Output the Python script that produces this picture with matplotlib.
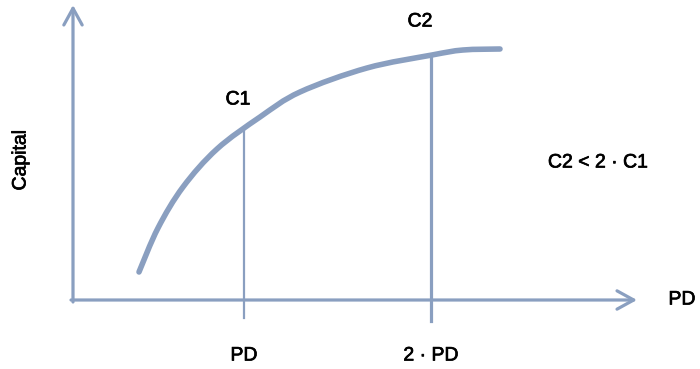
import matplotlib.pyplot as plt
import matplotlib.patheffects as pe
from matplotlib.path import Path
from matplotlib.patches import PathPatch
import numpy as np

plt.rcParams['font.family'] = ['Liberation Sans', 'DejaVu Sans']

BLUE = '#8a9fc0'

# curve (x in px from left, capital = height from bottom)
curve_x = [139, 158, 183, 217, 260, 300, 367, 432, 463, 500]
curve_y = [97, 141, 182, 220, 252, 277, 301, 314, 319, 320]

pd_x = [244, 431]
pd_top = [239, 314]
pd_labels = ['PD', '2 · PD']
c_labels = ['C1', 'C2']
c_label_pos = [(238, 269), (420, 347)]


def smooth_path(xs, ys):
    # catmull-rom through the points, drawn as cubic bezier segments
    p = np.column_stack([xs, ys]).astype(float)
    verts = [p[0]]
    codes = [Path.MOVETO]
    for i in range(len(p) - 1):
        p0 = p[i - 1] if i > 0 else p[i]
        p3 = p[i + 2] if i + 2 < len(p) else p[i + 1]
        c1 = p[i] + (p[i + 1] - p0) / 6
        c2 = p[i + 1] - (p3 - p[i]) / 6
        verts += [c1, c2, p[i + 1]]
        codes += [Path.CURVE4] * 3
    return Path(verts, codes)


fig = plt.figure(figsize=(7, 3.69), dpi=100)
ax = fig.add_axes([0, 0, 1, 1])
ax.set_xlim(0, 700)
ax.set_ylim(0, 369)
ax.axis('off')

# axes with open arrow heads
arrow = dict(arrowstyle='->,head_length=0.6,head_width=0.33', mutation_scale=20,
             lw=2.3, color=BLUE, shrinkA=0, shrinkB=0)
ax.annotate('', xy=(73, 364), xytext=(73, 67), arrowprops=arrow)
ax.annotate('', xy=(637, 69), xytext=(71, 69), arrowprops=arrow)

# vertical markers
ax.plot([pd_x[0], pd_x[0]], [51, pd_top[0]], color=BLUE, lw=1.6)
ax.plot([pd_x[1], pd_x[1]], [48, pd_top[1]], color=BLUE, lw=2.3)

# capital curve
ax.add_patch(PathPatch(smooth_path(curve_x, curve_y), fill=False, edgecolor=BLUE,
                       lw=4.0, capstyle='round', joinstyle='round'))

fs = 14
bold_ish = [pe.withStroke(linewidth=0.5, foreground='black')]
ax.text(21, 209, 'Capital', rotation=90, ha='center', va='center', fontsize=fs, path_effects=bold_ish)
ax.text(682, 69, 'PD', ha='center', va='center', fontsize=fs, path_effects=bold_ish)
for x, lab in zip(pd_x, pd_labels):
    ax.text(x, 13, lab, ha='center', va='center', fontsize=fs, path_effects=bold_ish)
for (x, y), lab in zip(c_label_pos, c_labels):
    ax.text(x, y, lab, ha='center', va='center', fontsize=fs, path_effects=bold_ish)
ax.text(598, 206, 'C2 < 2 · C1', ha='center', va='center', fontsize=fs, path_effects=bold_ish)

fig.savefig('out.png', dpi=100)
